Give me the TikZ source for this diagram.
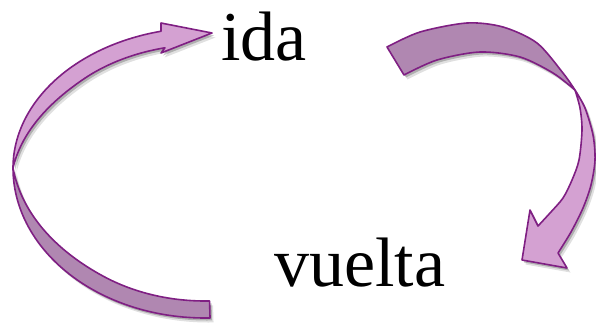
\documentclass[tikz,border=0pt]{standalone}
\usepackage{fontspec}
\setmainfont{Liberation Serif}
\definecolor{lightp}{HTML}{D4A1D2}
\definecolor{darkp}{HTML}{B087B1}
\definecolor{edgep}{HTML}{7F1F83}
\begin{document}
\begin{tikzpicture}[x=1pt,y=-1pt,
  declare function={wt(\t)=17*sin(min(150*(\t-180)/76.75,90));
                    wb(\t)=17*sin(min(150*(180-\t)/91.5,90));},
  lightpart/.style={fill=lightp, draw=edgep, line width=1.6pt, line join=round},
  darkpart/.style={fill=darkp, draw=edgep, line width=1.6pt, line join=round},
  shadowA/.style={fill=black, opacity=0.22, draw=none, shift={(2,2.5)}},
  shadowB/.style={fill=black, opacity=0.12, draw=none, shift={(3.5,4.5)}},
  lbl/.style={inner sep=0pt, font=\fontsize{70}{82}\selectfont, anchor=base west}]
\useasboundingbox (0,0) rectangle (596,325);
% left arrow: light upper part
\def\pathLT{plot[domain=180:256.75,samples=60] ({205+192*cos(\x)},{168+140.5*sin(\x)})
  -- (161,23) -- (212,33) -- (161,53)
  -- plot[domain=256.75:180,samples=60] ({205+(192-wt(\x))*cos(\x)},{168+(140.5-wt(\x))*sin(\x)}) -- cycle}
% left arrow: dark lower part
\def\pathLB{plot[domain=180:88.5,samples=60] ({205+192*cos(\x)},{168+150*sin(\x)})
  -- plot[domain=88.5:180,samples=60] ({205+(192-wb(\x))*cos(\x)},{168+(150-wb(\x))*sin(\x)}) -- cycle}
% right arrow: dark upper part
\def\pathRT{plot[smooth] coordinates {(387,47) (420,32) (467,23) (503,27) (537,43) (563,73) (575,90)}
  -- plot[smooth] coordinates {(575,90) (553,73) (520,57) (480,52) (437,60) (404,75)} -- cycle}
% right arrow: light lower part with head
\def\pathRB{plot[smooth] coordinates {(575,90) (585,108) (593,135) (595,160) (591,185) (583,208) (571,232) (558,253)}
  -- (567,268) -- (522,260) -- (530,210)
  -- plot[smooth] coordinates {(538,226) (550,213) (563,198) (572,180) (579,160) (582,130) (580,108) (575,90)} -- cycle}
% shadows
\foreach \s in {shadowB,shadowA}{
  \fill[\s] \pathLT; \fill[\s] \pathLB; \fill[\s] \pathRT; \fill[\s] \pathRB;
}
% shapes
\filldraw[darkpart] \pathLB;
\filldraw[lightpart] \pathLT;
\filldraw[darkpart] \pathRT;
\filldraw[lightpart] \pathRB;
% labels
\node[lbl] (ida) at (221,60) {ida};
\node[lbl] (vuelta) at (274,286) {vuelta};
\end{tikzpicture}
\end{document}
